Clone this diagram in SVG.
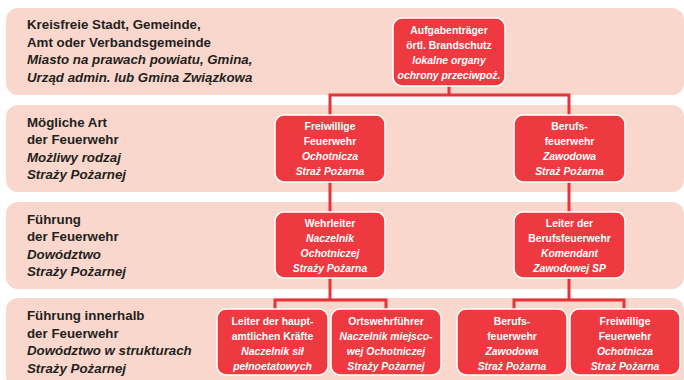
<svg xmlns="http://www.w3.org/2000/svg" width="684" height="380" viewBox="0 0 684 380">
<style>
.band{fill:#FAD7CC}
.node{fill:#EE3940;stroke:#FFFFFF;stroke-width:1.5}
.lbl{font-family:"Liberation Sans",Arial,sans-serif;font-size:13.3px;font-weight:bold;fill:#231F20}
.nt{font-family:"Liberation Sans",Arial,sans-serif;font-size:10.4px;font-weight:bold;fill:#FFFFFF;text-anchor:middle}
.i{font-style:italic}
.con{fill:none;stroke:#E8333B;stroke-width:3;stroke-linejoin:miter}
</style>
<rect width="684" height="380" fill="#FFFFFF"/>
<g id="bands">
<rect class="band" x="6" y="8" width="678" height="87" rx="12"/>
<rect class="band" x="6" y="105" width="678" height="87" rx="12"/>
<rect class="band" x="6" y="202" width="678" height="87" rx="12"/>
<rect class="band" x="6" y="298" width="678" height="90" rx="12"/>
</g>
<g id="labels">
<text class="lbl" x="27" y="29">Kreisfreie Stadt, Gemeinde,</text>
<text class="lbl" x="27" y="46.7">Amt oder Verbandsgemeinde</text>
<text class="lbl i" x="27" y="64.4">Miasto na prawach powiatu, Gmina,</text>
<text class="lbl i" x="27" y="82">Urząd admin. lub Gmina Związkowa</text>
<text class="lbl" x="27" y="126.5">Mögliche Art</text>
<text class="lbl" x="27" y="144">der Feuerwehr</text>
<text class="lbl i" x="27" y="161.7">Możliwy rodzaj</text>
<text class="lbl i" x="27" y="179.2">Straży Pożarnej</text>
<text class="lbl" x="27" y="223.5">Führung</text>
<text class="lbl" x="27" y="241">der Feuerwehr</text>
<text class="lbl i" x="27" y="258.7">Dowództwo</text>
<text class="lbl i" x="27" y="276.2">Straży Pożarnej</text>
<text class="lbl" x="27" y="320">Führung innerhalb</text>
<text class="lbl" x="27" y="337.5">der Feuerwehr</text>
<text class="lbl i" x="27" y="355.2">Dowództwo w strukturach</text>
<text class="lbl i" x="27" y="372.7">Straży Pożarnej</text>
</g>
<g id="connectors">
<path class="con" d="M449 86V95"/>
<path class="con" d="M330 115V95H569V115"/>
<path class="con" d="M330 182V212"/>
<path class="con" d="M569 182V212"/>
<path class="con" d="M330 278V300"/>
<path class="con" d="M275 309V300H386V309"/>
<path class="con" d="M569 278V300"/>
<path class="con" d="M514 309V300H624V309"/>
</g>
<g id="n0">
<rect class="node" x="393" y="18" width="112" height="68" rx="9"/>
<text class="nt" x="449" y="33.5">Aufgabenträger</text>
<text class="nt" x="449" y="48.5">örtl. Brandschutz</text>
<text class="nt i" x="449" y="63.5">lokalne organy</text>
<text class="nt i" x="449" y="78.5">ochrony przeciwpoż.</text>
</g>
<g id="n1">
<rect class="node" x="275" y="115" width="110" height="67" rx="9"/>
<text class="nt" x="330" y="130">Freiwillige</text>
<text class="nt" x="330" y="145">Feuerwehr</text>
<text class="nt i" x="330" y="160">Ochotnicza</text>
<text class="nt i" x="330" y="175">Straż Pożarna</text>
</g>
<g id="n2">
<rect class="node" x="514" y="115" width="111" height="67" rx="9"/>
<text class="nt" x="569.5" y="130">Berufs-</text>
<text class="nt" x="569.5" y="145">feuerwehr</text>
<text class="nt i" x="569.5" y="160">Zawodowa</text>
<text class="nt i" x="569.5" y="175">Straż Pożarna</text>
</g>
<g id="n3">
<rect class="node" x="275" y="212" width="110" height="66" rx="9"/>
<text class="nt" x="330" y="227">Wehrleiter</text>
<text class="nt i" x="330" y="242">Naczelnik</text>
<text class="nt i" x="330" y="257">Ochotniczej</text>
<text class="nt i" x="330" y="272">Straży Pożarna</text>
</g>
<g id="n4">
<rect class="node" x="514" y="212" width="111" height="66" rx="9"/>
<text class="nt" x="569.5" y="227">Leiter der</text>
<text class="nt" x="569.5" y="242">Berufsfeuerwehr</text>
<text class="nt i" x="569.5" y="257">Komendant</text>
<text class="nt i" x="569.5" y="272">Zawodowej SP</text>
</g>
<g id="n5">
<rect class="node" x="217" y="309" width="111" height="66" rx="9"/>
<text class="nt" x="272.5" y="324.5">Leiter der haupt-</text>
<text class="nt" x="272.5" y="339.5">amtlichen Kräfte</text>
<text class="nt i" x="272.5" y="354.5">Naczelnik sił</text>
<text class="nt i" x="272.5" y="369.5">pełnoetatowych</text>
</g>
<g id="n6">
<rect class="node" x="331" y="309" width="110" height="66" rx="9"/>
<text class="nt" x="386" y="324.5">Ortswehrführer</text>
<text class="nt i" x="386" y="339.5">Naczelnik miejsco-</text>
<text class="nt i" x="386" y="354.5">wej Ochotniczej</text>
<text class="nt i" x="386" y="369.5">Straży Pożarnej</text>
</g>
<g id="n7">
<rect class="node" x="457" y="309" width="110" height="66" rx="9"/>
<text class="nt" x="512" y="324.5">Berufs-</text>
<text class="nt" x="512" y="339.5">feuerwehr</text>
<text class="nt i" x="512" y="354.5">Zawodowa</text>
<text class="nt i" x="512" y="369.5">Straż Pożarna</text>
</g>
<g id="n8">
<rect class="node" x="570" y="309" width="110" height="66" rx="9"/>
<text class="nt" x="625" y="324.5">Freiwillige</text>
<text class="nt" x="625" y="339.5">Feuerwehr</text>
<text class="nt i" x="625" y="354.5">Ochotnicza</text>
<text class="nt i" x="625" y="369.5">Straż Pożarna</text>
</g>
</svg>
